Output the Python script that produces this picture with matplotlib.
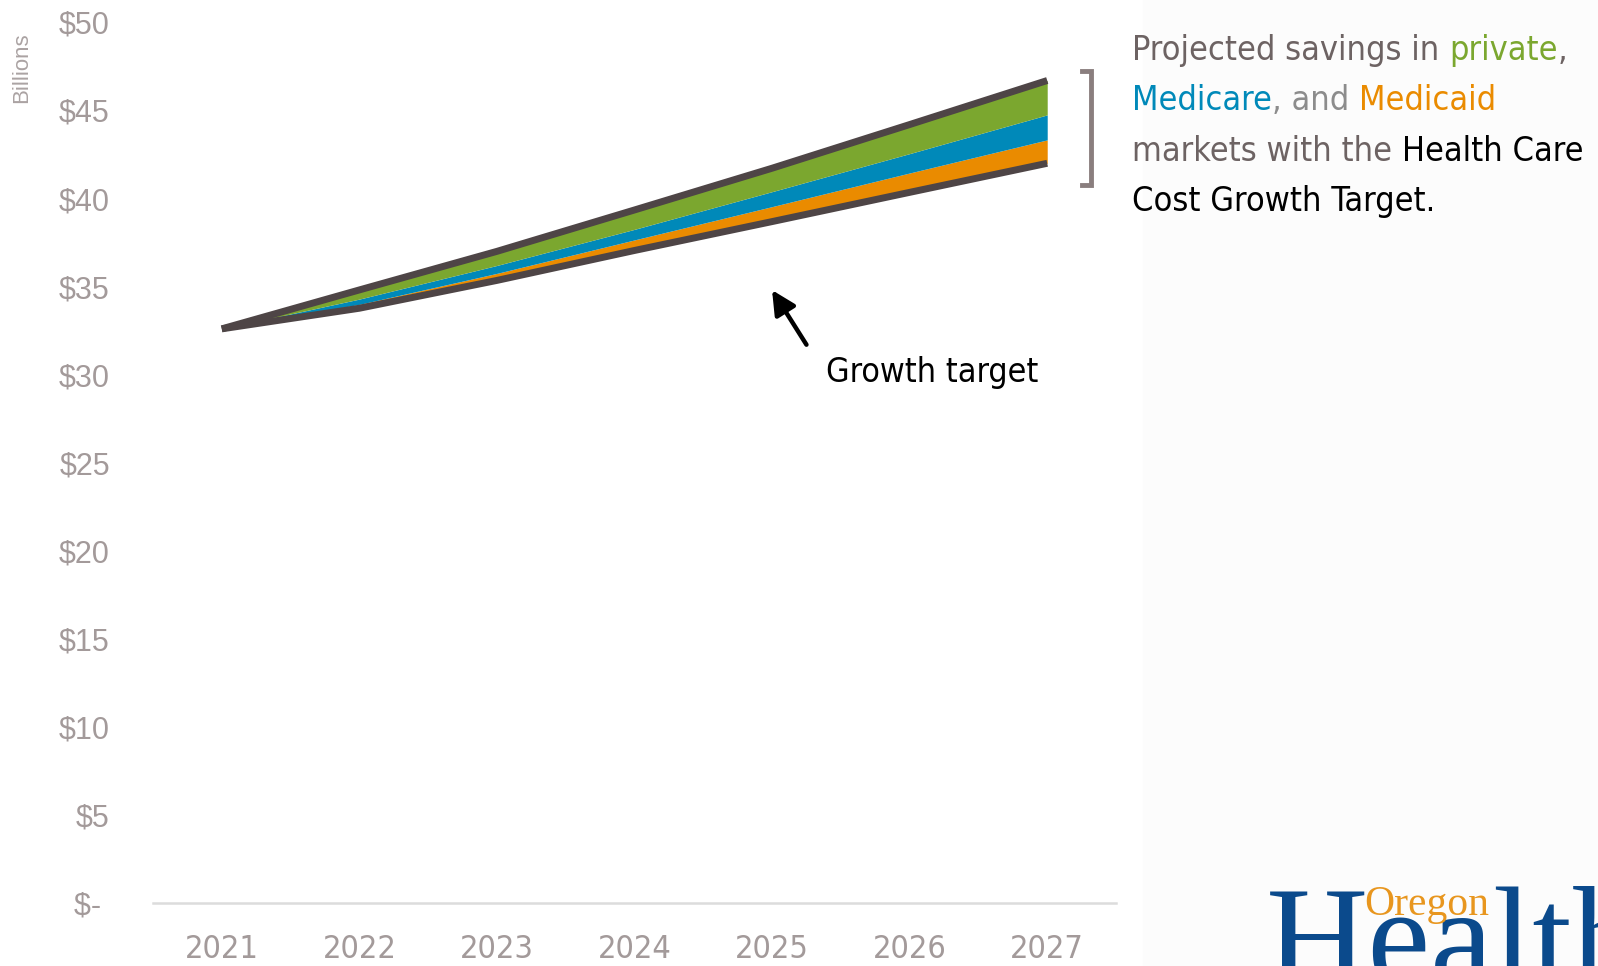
import matplotlib.pyplot as plt
from matplotlib import font_manager as fm
from matplotlib.font_manager import FontProperties
from matplotlib.patches import Rectangle
import numpy as np

years = [2021, 2022, 2023, 2024, 2025, 2026, 2027]
# spending under the cost growth target, billions
growth_target = [32.6, 33.77, 35.35, 37.05, 38.69, 40.35, 42.0]
# savings by market, stacked on top of the target
medicaid_savings = [0.0, 0.22, 0.40, 0.60, 0.85, 1.10, 1.33]
medicare_savings = [0.0, 0.30, 0.45, 0.60, 0.85, 1.10, 1.42]
private_savings = [0.0, 0.52, 0.80, 1.10, 1.33, 1.65, 1.95]
ytick_values = list(range(0, 51, 5))
ytick_labels = ['$- '] + ['$%d' % v for v in ytick_values[1:]]

GREEN = '#7BA72F'
BLUE = '#0089B9'
ORANGE = '#EA8B00'
LINE = '#4E4546'
TICK = '#A39A9A'
GREY = '#6D6363'


def narrow_font():
    # prefer a condensed sans face if one is installed
    for f in fm.fontManager.ttflist:
        if f.name == 'Liberation Sans Narrow' and f.style == 'normal' and str(f.weight) in ('400', 'normal', 'regular'):
            return FontProperties(fname=f.fname)
    for f in fm.fontManager.ttflist:
        if f.name == 'DejaVu Sans' and 'condensed' in str(f.stretch) and f.style == 'normal' \
                and str(f.weight) in ('400', 'normal', 'book', 'regular'):
            return FontProperties(fname=f.fname)
    return FontProperties(family='DejaVu Sans')


W, H = 1598, 966
fig = plt.figure(figsize=(W / 100, H / 100), dpi=100)
renderer = fig.canvas.get_renderer()
NARROW = narrow_font()


def sized(text, width_px):
    # font size that makes text span the given width
    fp = NARROW.copy()
    fp.set_size(20)
    t = fig.text(0, 0, text, fontproperties=fp)
    w = t.get_window_extent(renderer).width
    t.remove()
    fp.set_size(20 * width_px / w)
    return fp


fig.patches.append(Rectangle((1143 / W, 0), 1, 1, transform=fig.transFigure,
                             color='#FCFCFC', zorder=-1))
ax = fig.add_axes([153 / W, 1 - 903 / H, (1116 - 153) / W, (903 - 22.4) / H])
ax.patch.set_alpha(0)

lower = np.array(growth_target)
b1 = lower + np.array(medicaid_savings)
b2 = b1 + np.array(medicare_savings)
upper = b2 + np.array(private_savings)

ax.fill_between(years, lower, b1, color=ORANGE, lw=0)
ax.fill_between(years, b1, b2, color=BLUE, lw=0)
ax.fill_between(years, b2, upper, color=GREEN, lw=0)
ax.plot(years, upper, color=LINE, lw=5, solid_capstyle='butt')
ax.plot(years, lower, color=LINE, lw=5, solid_capstyle='butt')

ax.set_xlim(2020.5, 2027.5)
ax.set_ylim(0, 50)
ax.set_xticks(years)
ax.set_xticklabels([str(y) for y in years], fontproperties=sized('2021', 74), color=TICK)
ax.set_yticks(ytick_values)
ax.set_yticklabels(ytick_labels, family='Liberation Sans', fontsize=22, color=TICK)
ax.tick_params(axis='x', length=0, pad=22)
ax.tick_params(axis='y', length=0, pad=31)
for s in ['top', 'right', 'left']:
    ax.spines[s].set_visible(False)
ax.spines['bottom'].set_color('#DCDCDC')
ax.spines['bottom'].set_linewidth(1.8)

# arrow pointing at the target line
ax.annotate('', xy=(2025.0, 34.8), xytext=(2025.25, 31.7),
            arrowprops=dict(arrowstyle='-|>', color='black', lw=3.2,
                            mutation_scale=36, shrinkA=0, shrinkB=0))
ax.text(2025.39, 30.1, 'Growth target', fontproperties=sized('Growth target', 212),
        color='black', va='center', ha='left')

# bracket next to the 2027 savings
bx0, bx1 = years[-1] + 0.25, years[-1] + 0.32
btop, bbot = upper[-1] + 0.55, lower[-1] - 1.25
ax.plot([bx0, bx1, bx1, bx0], [btop, btop, bbot, bbot], color='#8A7E7E',
        lw=3.5, clip_on=False, solid_joinstyle='miter')

fig.text(22 / W, 1 - 68 / H, 'Billions', rotation=90, ha='center', va='center',
         fontsize=16, color='#ABA3A3', family='Liberation Sans')

# multi-colour caption on the right
cap_fp = sized('Projected savings in private,', 435)
caption = [
    [('Projected savings in ', GREY), ('private', GREEN), (',', GREY)],
    [('Medicare', BLUE), (', and ', '#8C8C8C'), ('Medicaid', ORANGE)],
    [('markets with the ', GREY), ('Health Care', 'black')],
    [('Cost Growth Target.', 'black')],
]
for i, parts in enumerate(caption):
    base = 1 - (60 + 50.5 * i) / H
    prev = None
    for txt, col in parts:
        if prev is None:
            prev = fig.text(1132 / W, base, txt, color=col, fontproperties=cap_fp,
                            va='baseline', ha='left')
        else:
            prev = ax.annotate(txt, xy=(1, 0), xycoords=prev, color=col,
                               fontproperties=cap_fp, va='bottom', ha='left',
                               annotation_clip=False)

# logo in the corner
fig.text(1266 / W, -0.02, 'Health', family='Liberation Serif', fontsize=102,
         color='#0B4A8C', va='baseline', ha='left')
fig.text(1364 / W, 1 - 915 / H, 'Oregon', family='Liberation Serif', fontsize=30,
         color='#E8961E', va='baseline', ha='left')

fig.savefig('out.png', dpi=100)
